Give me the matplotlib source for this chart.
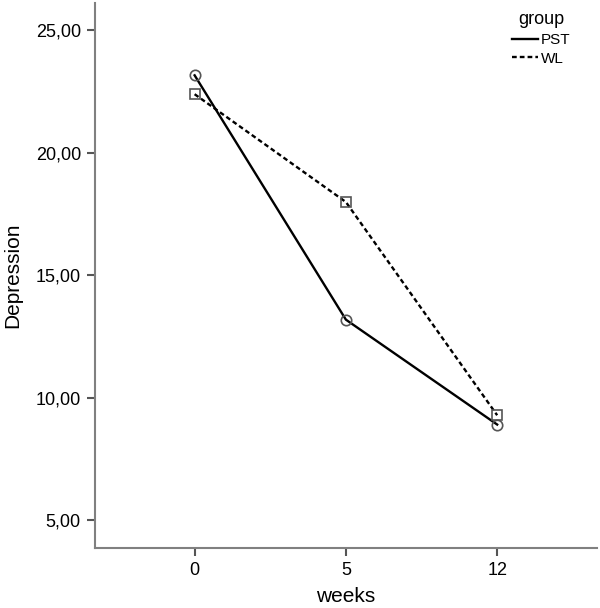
import matplotlib.pyplot as plt

plt.rcParams['font.family'] = ['Liberation Sans', 'DejaVu Sans']

weeks = ['0', '5', '12']
pst = [23.15, 13.18, 8.9]
wl = [22.38, 17.98, 9.28]
yticks = [5, 10, 15, 20, 25]
ytick_labels = ['5,00', '10,00', '15,00', '20,00', '25,00']

fig = plt.figure(figsize=(6, 6.08), dpi=100)
ax = fig.add_axes([0.158, 0.099, 0.837, 0.896])

x = range(len(weeks))
ax.plot(x, pst, color='black', lw=1.7, label='PST',
        marker='o', ms=7.5, mfc='none', mec='#555555', mew=1.2)
ax.plot(x, wl, color='black', lw=1.7, ls=(0, (2, 1.3)), label='WL',
        marker='s', ms=7.5, mfc='none', mec='#555555', mew=1.2)

ax.set_xlim(-0.66, 2.66)
ax.set_ylim(3.87, 26.1)
ax.set_xticks(list(x))
ax.set_xticklabels(weeks)
ax.set_yticks(yticks)
ax.set_yticklabels(ytick_labels)
ax.tick_params(labelsize=13, length=6, width=1.5, color='#555555', pad=4)

for s in ['top', 'right']:
    ax.spines[s].set_visible(False)
for s in ['left', 'bottom']:
    ax.spines[s].set_color('#808080')
    ax.spines[s].set_linewidth(1.5)

ax.set_xlabel('weeks', fontsize=15, labelpad=6)
ax.set_ylabel('Depression', fontsize=15, labelpad=10)

leg = ax.legend(title='group', loc='upper right', bbox_to_anchor=(0.975, 1.01),
                frameon=False, fontsize=11, title_fontsize=13,
                handlelength=1.7, handletextpad=0.2, labelspacing=0.3)
for h in leg.legend_handles:
    h.set_marker('')

fig.savefig('out.png', dpi=100)
